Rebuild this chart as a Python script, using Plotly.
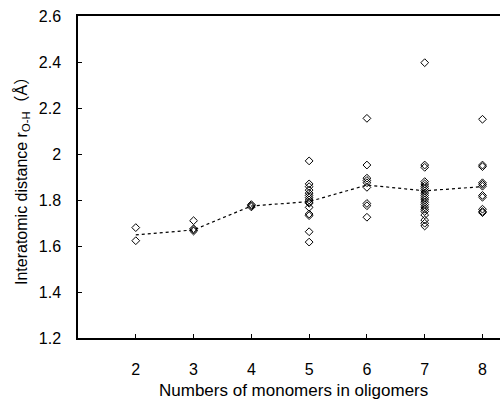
import plotly.graph_objects as go

x_vals = [2, 3, 4, 5, 6, 7, 8]
points = {
    2: [1.680, 1.623],
    3: [1.710, 1.675, 1.670, 1.665],
    4: [1.780, 1.775, 1.770],
    5: [1.970, 1.870, 1.858, 1.843, 1.830, 1.820, 1.810, 1.800, 1.790, 1.786, 1.768, 1.739, 1.732, 1.662, 1.617],
    6: [2.155, 1.952, 1.895, 1.885, 1.875, 1.855, 1.785, 1.775, 1.725],
    7: [2.397, 1.952, 1.942, 1.880, 1.870, 1.860, 1.850, 1.840, 1.830, 1.820, 1.810,
        1.800, 1.790, 1.780, 1.770, 1.760, 1.750, 1.735, 1.713, 1.699, 1.687],
    8: [2.151, 1.952, 1.945, 1.875, 1.868, 1.860, 1.820, 1.812, 1.760, 1.750, 1.745],
}
mean_vals = [1.648, 1.670, 1.774, 1.793, 1.865, 1.840, 1.858]
y_ticks = [1.2, 1.4, 1.6, 1.8, 2.0, 2.2, 2.4, 2.6]
y_tick_text = ["1.2", "1.4", "1.6", "1.8", "2", "2.2", "2.4", "2.6"]
x_title = "Numbers of monomers in oligomers"
y_title = "Interatomic distance r<sub>O-H</sub>（Å）"

px, py = [], []
for k in x_vals:
    for v in points[k]:
        px.append(k)
        py.append(v)

font_fam = "Liberation Sans, Noto Sans CJK JP, sans-serif"

fig = go.Figure()
fig.add_trace(go.Scatter(x=x_vals, y=mean_vals, mode="lines",
                         line=dict(color="black", width=1.2, dash="dot"),
                         showlegend=False, hoverinfo="skip"))
fig.add_trace(go.Scatter(x=px, y=py, mode="markers",
                         marker=dict(symbol="diamond-open", size=6,
                                     line=dict(color="black", width=1), color="black"),
                         showlegend=False))

L, T, B, W, H = 78, 16, 61, 500, 399
pw = W - L
ph = H - T - B

fig.update_layout(
    width=W, height=H,
    margin=dict(l=L, r=0, t=T, b=B),
    paper_bgcolor="white", plot_bgcolor="white",
    font=dict(family=font_fam, color="black", size=16),
    xaxis=dict(range=[1, 8.303], tickvals=x_vals, ticktext=[str(v) for v in x_vals],
               ticks="inside", ticklen=4, tickcolor="black",
               showline=True, linecolor="black", linewidth=1.5, mirror=True,
               showgrid=False, zeroline=False, ticklabelstandoff=16,
               tickfont=dict(size=16)),
    yaxis=dict(range=[1.2, 2.6], tickvals=y_ticks, ticktext=y_tick_text,
               ticks="inside", ticklen=4, tickcolor="black",
               showline=True, linecolor="black", linewidth=1.5,
               showgrid=False, zeroline=False, ticklabelstandoff=12,
               tickfont=dict(size=16)),
    annotations=[
        dict(text=x_title, xref="paper", yref="paper",
             x=(293 - L) / pw, y=-(390 - T - ph) / ph, xanchor="center", yanchor="middle",
             showarrow=False, font=dict(size=17)),
        dict(text=y_title, xref="paper", yref="paper", textangle=-90,
             x=(22 - L) / pw, y=1 - (177 - T) / ph, xanchor="center", yanchor="middle",
             showarrow=False, font=dict(size=16)),
    ],
)

fig.write_html("out.html")
